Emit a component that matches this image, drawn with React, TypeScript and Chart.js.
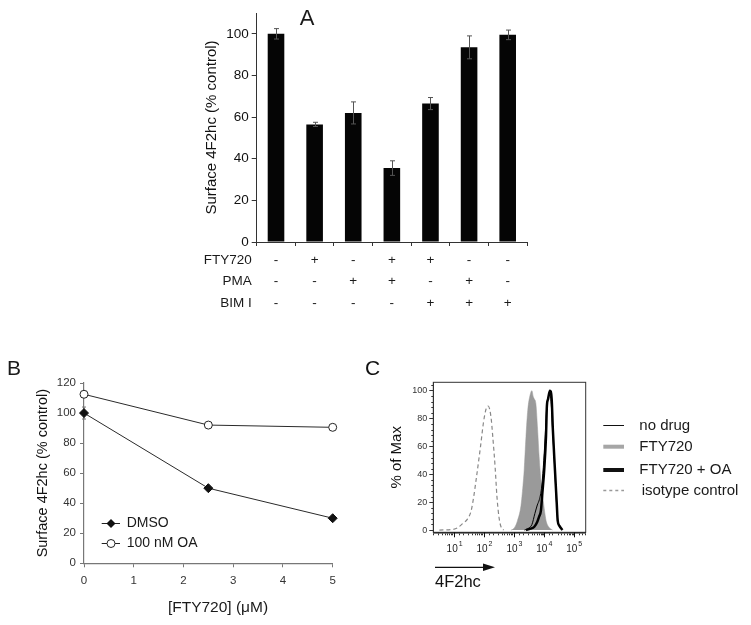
import React, { useEffect, useRef } from 'react';
import { Chart, registerables } from 'chart.js';

Chart.register(...registerables);

const FONT = '"Liberation Sans", Arial, Helvetica, sans-serif';

// ---------- Panel A data ----------
const conditionsA = ['Control', 'FTY720', 'PMA', 'FTY720 + PMA', 'FTY720 + BIM I', 'PMA + BIM I', 'BIM I'];
const surfaceA = [100, 56.5, 62, 35.5, 66.5, 93.5, 99.5];
const errorA = [2.5, 1, 5.3, 3.5, 2.9, 5.5, 2.3];
const rowLabelsA = ['FTY720', 'PMA', 'BIM I'];
const ftyRow = ['-', '+', '-', '+', '+', '-', '-'];
const pmaRow = ['-', '-', '+', '+', '-', '+', '-'];
const bimRow = ['-', '-', '-', '-', '+', '+', '+'];

// ---------- Panel B data ----------
const doseB = [0, 2.5, 5];
const dmsoB = [100, 50, 30];
const dmsoErrB = [4, 0, 0];
const oaB = [112.5, 92, 90.5];
const legendB = ['DMSO', '100 nM OA'];

// ---------- Panel C data ----------
const isoX = [3.2, 9.1, 12.6, 19.5, 28, 37, 45, 54, 76, 95, 117, 138, 170, 195, 234, 269, 316, 372, 447];
const isoY = [0, 0.5, 1.5, 4.8, 8, 14, 24, 36, 60, 77, 87, 89, 81, 67, 45, 24, 9, 2, 0];
const ftyX = [794, 912, 1122, 1318, 1698, 1995, 2188, 2512, 2884, 3467, 3981, 4365, 4786, 5370, 6166, 6918, 7943, 9772, 11749, 14791, 19498];
const ftyY = [0, 0.5, 3, 7, 17, 32, 43, 67, 86, 97, 100, 96, 94, 91, 72, 53, 36, 19, 7, 2, 0];
const oaX = [2512, 3548, 4786, 6026, 6918, 7943, 8913, 10233, 11749, 12589, 13804, 15849, 18197, 19953, 23442, 26915, 28840, 33113, 41687];
const oaY = [0, 1, 2.4, 6, 9.6, 14, 27, 43, 67, 89, 94, 100, 94, 72, 43, 19, 7, 3, 0];
const noDrugX = [2239, 3162, 3981, 5012, 6026, 7079, 8318, 9550, 10965, 12303, 13804, 15488, 17378, 19498, 22909, 26303, 28840, 33113, 39811];
const noDrugY = [0, 1.5, 4, 12, 18, 22, 30, 45, 66, 87, 95, 97, 92, 72, 45, 20, 8, 3, 0];
const legendC = ['no drug', 'FTY720', 'FTY720 + OA', 'isotype control'];
const decadesC = [1, 2, 3, 4, 5];

const pts = (xs: number[], ys: number[]) => xs.map((x, i) => ({ x, y: ys[i] }));

export default function App() {
  const refA = useRef<HTMLCanvasElement>(null);
  const refB = useRef<HTMLCanvasElement>(null);
  const refC = useRef<HTMLCanvasElement>(null);

  useEffect(() => {
    Chart.defaults.font.family = FONT;

    // ---------------- Panel A ----------------
    const pluginA = {
      id: 'pluginA',
      afterDatasetsDraw(chart: any) {
        const { ctx, scales: { x, y } } = chart;
        ctx.save();
        ctx.strokeStyle = '#555';
        ctx.lineWidth = 1;
        surfaceA.forEach((v, i) => {
          const px = Math.round(x.getPixelForValue(i)) + 0.5;
          const top = y.getPixelForValue(v + errorA[i]);
          const bot = y.getPixelForValue(v - errorA[i]);
          ctx.beginPath();
          ctx.moveTo(px, top);
          ctx.lineTo(px, bot);
          ctx.moveTo(px - 2.5, top);
          ctx.lineTo(px + 2.5, top);
          ctx.moveTo(px - 2.5, bot);
          ctx.lineTo(px + 2.5, bot);
          ctx.stroke();
        });
        ctx.restore();
      },
      afterDraw(chart: any) {
        const { ctx, scales: { x, y } } = chart;
        ctx.save();
        ctx.fillStyle = '#1a1a1a';
        ctx.textBaseline = 'middle';
        ctx.font = `13.5px ${FONT}`;
        [ftyRow, pmaRow, bimRow].forEach((row, r) => {
          const ry = y.bottom + 18 + r * 21.5;
          ctx.textAlign = 'right';
          ctx.fillText(rowLabelsA[r], x.left - 5, ry);
          ctx.textAlign = 'center';
          row.forEach((s, i) => ctx.fillText(s, x.getPixelForValue(i), ry));
        });
        ctx.font = `22px ${FONT}`;
        ctx.textAlign = 'center';
        ctx.fillText('A', 117, 19);
        ctx.restore();
      },
    };

    const chartA = new Chart(refA.current!, {
      type: 'bar',
      data: {
        labels: conditionsA,
        datasets: [
          {
            data: surfaceA,
            backgroundColor: '#050505',
            borderWidth: 0,
            barPercentage: 0.43,
            categoryPercentage: 1,
          },
        ],
      },
      options: {
        responsive: false,
        maintainAspectRatio: false,
        animation: false,
        layout: { padding: { top: 13, right: 63, left: 0, bottom: 0 } },
        plugins: { legend: { display: false }, tooltip: { enabled: false } },
        scales: {
          x: {
            ticks: { display: false },
            grid: { offset: true, drawOnChartArea: false, drawTicks: true, tickLength: 4, color: '#333' },
            border: { color: '#333', width: 1 },
            afterFit: (s: any) => { s.height = 83; },
          },
          y: {
            min: 0,
            max: 110,
            ticks: { stepSize: 20, includeBounds: false, font: { size: 13.5 }, color: '#111', padding: 3 },
            grid: { drawOnChartArea: false, tickLength: 5, color: '#333' },
            border: { color: '#333', width: 1 },
            title: { display: true, text: 'Surface 4F2hc (% control)', font: { size: 15 }, color: '#111', padding: { top: 13, bottom: 0 } },
            afterFit: (s: any) => { s.width = 66.7; },
          },
        },
      },
      plugins: [pluginA],
    } as any);

    // ---------------- Panel B ----------------
    const drawDiamond = (ctx: any, cx: number, cy: number, r: number) => {
      ctx.beginPath();
      ctx.moveTo(cx, cy - r);
      ctx.lineTo(cx + r, cy);
      ctx.lineTo(cx, cy + r);
      ctx.lineTo(cx - r, cy);
      ctx.closePath();
      ctx.fillStyle = '#111';
      ctx.fill();
    };
    const drawCircle = (ctx: any, cx: number, cy: number, r: number) => {
      ctx.beginPath();
      ctx.arc(cx, cy, r, 0, Math.PI * 2);
      ctx.fillStyle = '#fff';
      ctx.fill();
      ctx.strokeStyle = '#222';
      ctx.lineWidth = 1;
      ctx.stroke();
    };

    const pluginB = {
      id: 'pluginB',
      beforeDatasetsDraw(chart: any) {
        const { ctx, scales: { x, y } } = chart;
        ctx.save();
        ctx.strokeStyle = '#777';
        ctx.lineWidth = 1;
        dmsoB.forEach((v, i) => {
          if (!dmsoErrB[i]) return;
          const px = x.getPixelForValue(doseB[i]);
          const top = y.getPixelForValue(v + dmsoErrB[i]);
          const bot = y.getPixelForValue(v - dmsoErrB[i]);
          ctx.beginPath();
          ctx.moveTo(px, top);
          ctx.lineTo(px, bot);
          ctx.moveTo(px - 2, top);
          ctx.lineTo(px + 2, top);
          ctx.moveTo(px - 2, bot);
          ctx.lineTo(px + 2, bot);
          ctx.stroke();
        });
        ctx.restore();
      },
      afterDraw(chart: any) {
        const { ctx } = chart;
        ctx.save();
        const rows = [193.5, 213.5];
        rows.forEach((ry, r) => {
          ctx.strokeStyle = '#222';
          ctx.lineWidth = 1;
          ctx.beginPath();
          ctx.moveTo(101.7, ry);
          ctx.lineTo(120, ry);
          ctx.stroke();
          if (r === 0) drawDiamond(ctx, 111, ry, 4.5);
          else drawCircle(ctx, 111, ry, 4);
          ctx.fillStyle = '#1a1a1a';
          ctx.font = `14px ${FONT}`;
          ctx.textAlign = 'left';
          ctx.textBaseline = 'middle';
          ctx.fillText(legendB[r], 126.7, ry);
        });
        ctx.font = `15.5px ${FONT}`;
        ctx.textAlign = 'center';
        ctx.fillText('[FTY720] (μM)', 218, 278);
        ctx.font = `21px ${FONT}`;
        ctx.fillText('B', 14, 39);
        ctx.restore();
      },
    };

    const chartB = new Chart(refB.current!, {
      type: 'line',
      data: {
        datasets: [
          {
            label: legendB[0],
            data: pts(doseB, dmsoB),
            borderColor: '#2a2a2a',
            borderWidth: 1,
            pointStyle: 'rectRot',
            pointRadius: 4.5,
            pointBackgroundColor: '#111',
            pointBorderColor: '#111',
            pointBorderWidth: 1,
            clip: false,
          },
          {
            label: legendB[1],
            data: pts(doseB, oaB),
            borderColor: '#2a2a2a',
            borderWidth: 1,
            pointStyle: 'circle',
            pointRadius: 4,
            pointBackgroundColor: '#fff',
            pointBorderColor: '#222',
            pointBorderWidth: 1,
            clip: false,
          },
        ],
      },
      options: {
        responsive: false,
        maintainAspectRatio: false,
        animation: false,
        layout: { padding: { top: 53, right: 27.3, left: 0, bottom: 0 } },
        plugins: { legend: { display: false }, tooltip: { enabled: false } },
        scales: {
          x: {
            type: 'linear',
            min: 0,
            max: 5,
            ticks: { stepSize: 1, font: { size: 11.5 }, color: '#333', padding: 7 },
            grid: { drawOnChartArea: false, tickLength: 4, color: '#777' },
            border: { color: '#777', width: 1.2 },
            afterFit: (s: any) => { s.height = 61.7; },
          },
          y: {
            min: 0,
            max: 120,
            ticks: { stepSize: 20, font: { size: 11.5 }, color: '#333', padding: 4 },
            grid: { drawOnChartArea: false, tickLength: 4, color: '#777' },
            border: { color: '#777', width: 1.2 },
            title: { display: true, text: 'Surface 4F2hc (% control)', font: { size: 14.5 }, color: '#111', padding: { top: 34.6, bottom: 0 } },
            afterFit: (s: any) => { s.width = 84; },
          },
        },
      },
      plugins: [pluginB],
    } as any);

    // ---------------- Panel C ----------------
    const pluginC = {
      id: 'pluginC',
      afterDraw(chart: any) {
        const { ctx, chartArea: ca, scales: { x, y } } = chart;
        ctx.save();
        // frame
        ctx.strokeStyle = '#333';
        ctx.lineWidth = 1;
        ctx.strokeRect(ca.left, ca.top, ca.right - ca.left, ca.bottom - ca.top);
        // minor y ticks
        ctx.beginPath();
        for (let v = 0; v <= 104; v += 4) {
          if (v % 20 === 0) continue;
          const py = Math.round(y.getPixelForValue(v)) + 0.5;
          ctx.moveTo(ca.left - 2, py);
          ctx.lineTo(ca.left, py);
        }
        ctx.stroke();
        // decade labels with superscripts + longer major ticks
        ctx.fillStyle = '#222';
        ctx.textBaseline = 'middle';
        decadesC.forEach((d) => {
          const px = x.getPixelForValue(Math.pow(10, d));
          ctx.strokeStyle = '#111';
          ctx.lineWidth = 1;
          ctx.beginPath();
          ctx.moveTo(Math.round(px) + 0.5, ca.bottom);
          ctx.lineTo(Math.round(px) + 0.5, ca.bottom + 5);
          ctx.stroke();
          ctx.font = `10px ${FONT}`;
          ctx.textAlign = 'right';
          ctx.fillText('10', px + 3.5, 219.5);
          ctx.font = `7px ${FONT}`;
          ctx.textAlign = 'left';
          ctx.fillText(String(d), px + 4.5, 214);
        });
        // legend
        const rows = [95.5, 116.7, 140, 160.5];
        const styles = [
          { color: '#111', width: 1, dash: [] as number[] },
          { color: '#a6a6a6', width: 4, dash: [] as number[] },
          { color: '#111', width: 4, dash: [] as number[] },
          { color: '#999', width: 1.5, dash: [3, 3] },
        ];
        rows.forEach((ry, r) => {
          const st = styles[r];
          ctx.strokeStyle = st.color;
          ctx.lineWidth = st.width;
          ctx.setLineDash(st.dash);
          ctx.beginPath();
          ctx.moveTo(243.3, ry);
          ctx.lineTo(264, ry);
          ctx.stroke();
          ctx.setLineDash([]);
          ctx.fillStyle = '#1a1a1a';
          ctx.font = `15px ${FONT}`;
          ctx.textAlign = 'left';
          ctx.textBaseline = 'middle';
          ctx.fillText(legendC[r], r === 3 ? 281.7 : 279.3, ry);
        });
        // arrow + label
        ctx.strokeStyle = '#111';
        ctx.lineWidth = 1.3;
        ctx.beginPath();
        ctx.moveTo(75, 237.3);
        ctx.lineTo(124, 237.3);
        ctx.stroke();
        ctx.fillStyle = '#111';
        ctx.beginPath();
        ctx.moveTo(135, 237.3);
        ctx.lineTo(123, 233.5);
        ctx.lineTo(123, 241.1);
        ctx.closePath();
        ctx.fill();
        ctx.font = `16.5px ${FONT}`;
        ctx.textAlign = 'left';
        ctx.fillText('4F2hc', 75, 252);
        ctx.font = `21px ${FONT}`;
        ctx.textAlign = 'center';
        ctx.fillText('C', 12.5, 39);
        ctx.restore();
      },
    };

    const chartC = new Chart(refC.current!, {
      type: 'line',
      data: {
        datasets: [
          {
            label: legendC[1],
            data: pts(ftyX, ftyY),
            borderColor: '#9a9a9a',
            backgroundColor: '#9a9a9a',
            borderWidth: 0.5,
            fill: 'origin',
            pointRadius: 0,
            cubicInterpolationMode: 'monotone',
            order: 4,
          },
          {
            label: legendC[3],
            data: pts(isoX, isoY),
            borderColor: '#888',
            borderWidth: 1.2,
            borderDash: [4, 3],
            fill: false,
            pointRadius: 0,
            cubicInterpolationMode: 'monotone',
            order: 3,
          },
          {
            label: legendC[0],
            data: pts(noDrugX, noDrugY),
            borderColor: '#000',
            borderWidth: 1,
            fill: false,
            pointRadius: 0,
            cubicInterpolationMode: 'monotone',
            order: 2,
          },
          {
            label: legendC[2],
            data: pts(oaX, oaY),
            borderColor: '#000',
            borderWidth: 2.5,
            fill: false,
            pointRadius: 0,
            cubicInterpolationMode: 'monotone',
            order: 1,
          },
        ],
      },
      options: {
        responsive: false,
        maintainAspectRatio: false,
        animation: false,
        layout: { padding: { top: 52.3, right: 391 - 225.7, left: 0, bottom: 0 } },
        plugins: { legend: { display: false }, tooltip: { enabled: false } },
        scales: {
          x: {
            type: 'logarithmic',
            min: 2,
            max: 250000,
            ticks: { autoSkip: false, maxRotation: 0, font: { size: 10 }, color: '#333', padding: 6, callback: () => '' },
            grid: { drawOnChartArea: false, tickLength: 3, color: '#333' },
            border: { color: '#111', width: 1.6 },
            afterFit: (s: any) => { s.height = 295 - 202.3; },
          },
          y: {
            min: -1.6,
            max: 106,
            ticks: { stepSize: 20, includeBounds: false, font: { size: 9 }, color: '#333', padding: 2 },
            grid: { drawOnChartArea: false, tickLength: 4, color: '#333' },
            border: { color: '#333', width: 1 },
            title: { display: true, text: '% of Max', font: { size: 15 }, color: '#111', padding: { top: 27.7, bottom: 0 } },
            afterFit: (s: any) => { s.width = 73.3; },
          },
        },
      },
      plugins: [pluginC],
    } as any);

    return () => {
      chartA.destroy();
      chartB.destroy();
      chartC.destroy();
    };
  }, []);

  return (
    <div style={{ position: 'fixed', left: 0, top: 0, width: 751, height: 625, background: '#fff', overflow: 'hidden' }}>
      <canvas ref={refA} width={400} height={325} style={{ position: 'absolute', left: 190, top: 0, width: 400, height: 325 }} />
      <canvas ref={refB} width={360} height={295} style={{ position: 'absolute', left: 0, top: 330, width: 360, height: 295 }} />
      <canvas ref={refC} width={391} height={295} style={{ position: 'absolute', left: 360, top: 330, width: 391, height: 295 }} />
    </div>
  );
}
